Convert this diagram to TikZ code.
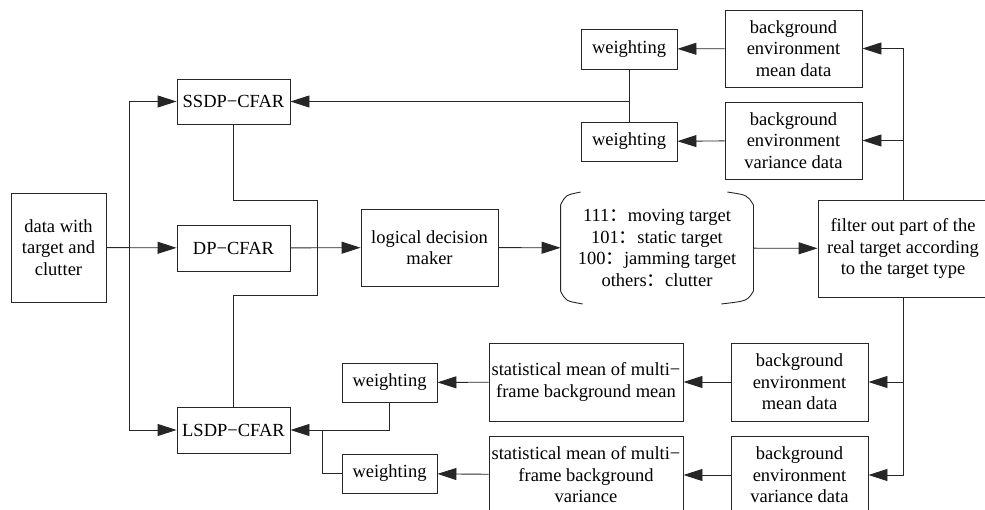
\documentclass[tikz,border=0pt]{standalone}
\usepackage{fontspec}
\setmainfont{Liberation Serif}
\newfontfamily\cjk{Noto Sans CJK SC}
\usetikzlibrary{arrows.meta}
\newcommand{\fwc}{{\cjk ：}}
\tikzset{
	line/.style={draw=black!85, line width=0.9pt},
	arr/.style={line, -{Triangle[length=19pt,width=12pt]}},
	box/.style={line, align=center, inner sep=2pt, font=\fontsize{18.5}{21.5}\selectfont},
}
\begin{document}
\begin{tikzpicture}[x=1pt,y=-1pt]
		\useasboundingbox (0,0) rectangle (985,510);
		% left column
		\node[box, minimum width=95pt, minimum height=109pt] (data) at (58.5,247.5) {data with\\target and\\clutter};
		\node[box, minimum width=113pt, minimum height=45pt] (ssdp) at (233.5,101.5) {SSDP−CFAR};
		\node[box, minimum width=113pt, minimum height=46pt] (dp) at (233.5,248) {DP−CFAR};
		\node[box, minimum width=113pt, minimum height=46pt] (lsdp) at (233.5,430) {LSDP−CFAR};
		\node[box, minimum width=137pt, minimum height=77pt] (logic) at (429.5,247.5) {logical decision\\maker};
		\node[box, draw=none, minimum width=192pt, minimum height=111pt] (codes) at (657,248) {111\fwc moving target\\101\fwc static target\\100\fwc jamming target\\others\fwc clutter};
		\node[box, minimum width=170pt, minimum height=97pt] (filter) at (903,248.5) {filter out part of the\\real target according\\to the target type};
		% upper branch
		\node[box, minimum width=96pt, minimum height=40pt] (wt-1) at (629,49) {weighting};
		\node[box, minimum width=96pt, minimum height=39pt] (wt-2) at (629,141.5) {weighting};
		\node[box, minimum width=137pt, minimum height=77pt] (bgm-1) at (793.5,48.5) {background\\environment\\mean data};
		\node[box, minimum width=137pt, minimum height=77pt] (bgv-1) at (793.5,140.5) {background\\environment\\variance data};
		% lower branch
		\node[box, minimum width=137pt, minimum height=78pt] (bgm-2) at (799.5,382) {background\\environment\\mean data};
		\node[box, minimum width=137pt, minimum height=78pt] (bgv-2) at (799.5,475) {background\\environment\\variance data};
		\node[box, minimum width=194pt, minimum height=78pt] (stm-1) at (586,382) {statistical mean of multi−\\frame background mean};
		\node[box, minimum width=194pt, minimum height=78pt] (stm-2) at (586,475) {statistical mean of multi−\\frame background\\variance};
		\node[box, minimum width=95pt, minimum height=39pt] (wb-1) at (389.5,382.5) {weighting};
		\node[box, minimum width=95pt, minimum height=39pt] (wb-2) at (389.5,473.5) {weighting};
		% brackets round the codes
		\draw[line] ([xshift=20pt]codes.north west) .. controls ([xshift=5pt,yshift=-3pt]codes.north west) .. ([yshift=-13pt]codes.north west) -- ([yshift=13pt]codes.south west) .. controls ([xshift=5pt,yshift=3pt]codes.south west) .. ([xshift=22pt]codes.south west);
		\draw[line] ([xshift=-26pt]codes.north east) .. controls ([xshift=-6pt,yshift=-3pt]codes.north east) .. ([yshift=-13pt]codes.north east) -- ([yshift=13pt]codes.south east) .. controls ([xshift=-6pt,yshift=3pt]codes.south east) .. ([xshift=-32pt]codes.south east);
		% connectors
		\coordinate (bus) at (129,248);
		\coordinate (merge) at (317,248);
		\coordinate (ss-bend) at (317,200);
		\coordinate (ls-bend) at (317,295);
		\coordinate (ls-join) at (322,430);
		\draw[arr] (data) -- (dp);
		\draw[arr] (bus) |- (ssdp);
		\draw[arr] (bus) |- (lsdp);
		\draw[line] (ssdp.south) |- (ss-bend) -- (merge);
		\draw[line] (lsdp.north) |- (ls-bend) -- (merge);
		\draw[arr] (dp) -- (logic);
		\draw[arr] (logic) -- (codes);
		\draw[arr] (codes) -- (filter);
		\draw[line] (wt-1) -- (wt-2);
		\draw[arr] (wt-1 |- ssdp) -- (ssdp);
		\draw[arr] (bgm-1) -- (wt-1);
		\draw[arr] (bgv-1) -- (wt-2);
		\draw[arr] (filter.north) |- (bgm-1);
		\draw[arr] (filter.north |- bgv-1) -- (bgv-1);
		\draw[arr] (filter.south) |- (bgv-2);
		\draw[arr] (filter.south |- bgm-2) -- (bgm-2);
		\draw[arr] (bgm-2) -- (stm-1);
		\draw[arr] (bgv-2) -- (stm-2);
		\draw[arr] (stm-1) -- (wb-1);
		\draw[arr] (stm-2) -- (wb-2);
		\draw[arr] (wb-1.south) |- (lsdp);
		\draw[line] (wb-2) -| (ls-join);
	\end{tikzpicture}
\end{document}
